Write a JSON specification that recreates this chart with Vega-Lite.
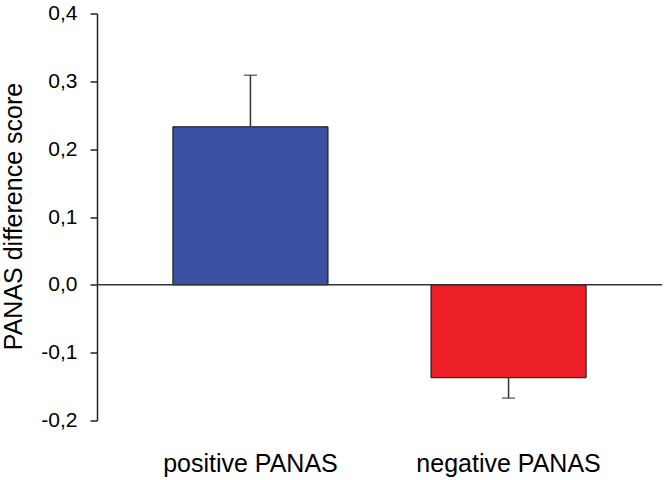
{
  "$schema": "https://vega.github.io/schema/vega-lite/v6.json",
  "width": 565,
  "height": 407,
  "autosize": {"type": "none"},
  "padding": {"left": 97, "top": 13.5, "right": 4, "bottom": 59.5},
  "background": "white",
  "config": {
    "view": {"stroke": null},
    "font": "Liberation Sans"
  },
  "data": {
    "values": [
      {"condition": "positive PANAS", "mean": 0.233, "errEnd": 0.309},
      {"condition": "negative PANAS", "mean": -0.137, "errEnd": -0.167}
    ]
  },
  "encoding": {
    "x": {
      "field": "condition",
      "type": "nominal",
      "sort": ["positive PANAS", "negative PANAS"],
      "scale": {"paddingInner": 0.399, "paddingOuter": 0.294},
      "axis": {
        "title": null,
        "domain": false,
        "ticks": false,
        "labelAngle": 0,
        "labelFontSize": 25,
        "labelLimit": 0,
        "labelColor": "#000000",
        "labelPadding": 31,
        "labelFont": "Liberation Sans"
      }
    }
  },
  "layer": [
    {
      "mark": {"type": "bar", "stroke": "#111111", "strokeWidth": 1},
      "encoding": {
        "y": {
          "field": "mean",
          "type": "quantitative",
          "scale": {"domain": [-0.2, 0.4], "nice": false},
          "axis": {
            "title": "PANAS difference score",
            "titleFontSize": 25,
            "titleFontWeight": "normal",
            "titleColor": "#000000",
            "titleX": -84,
            "titleY": 202.5,
            "titleBaseline": "middle",
            "values": [-0.2, -0.1, 0, 0.1, 0.2, 0.3, 0.4],
            "format": ".1f",
            "formatType": "number",
            "labelExpr": "replace(replace(datum.label, '.', ','), '\u2212', '-')",
            "labelFontSize": 21,
            "labelColor": "#000000",
            "labelPadding": 13,
            "tickSize": 7,
            "tickColor": "#222222",
            "tickWidth": 1.5,
            "domainColor": "#222222",
            "domainWidth": 1.5,
            "grid": false
          }
        },
        "y2": {"datum": 0},
        "color": {
          "field": "condition",
          "type": "nominal",
          "scale": {"domain": ["positive PANAS", "negative PANAS"], "range": ["#3a52a3", "#ec1f26"]},
          "legend": null
        }
      }
    },
    {
      "mark": {"type": "rule", "color": "#333333", "strokeWidth": 1.5},
      "encoding": {
        "y": {"field": "mean", "type": "quantitative"},
        "y2": {"field": "errEnd"}
      }
    },
    {
      "mark": {"type": "tick", "color": "#333333", "thickness": 1.5, "size": 13},
      "encoding": {
        "y": {"field": "errEnd", "type": "quantitative"}
      }
    },
    {
      "data": {"values": [{"zero": 0}]},
      "mark": {"type": "rule", "color": "#333333", "strokeWidth": 1.5},
      "encoding": {
        "y": {"field": "zero", "type": "quantitative"},
        "x": {"value": 0},
        "x2": {"value": 565}
      }
    }
  ]
}
